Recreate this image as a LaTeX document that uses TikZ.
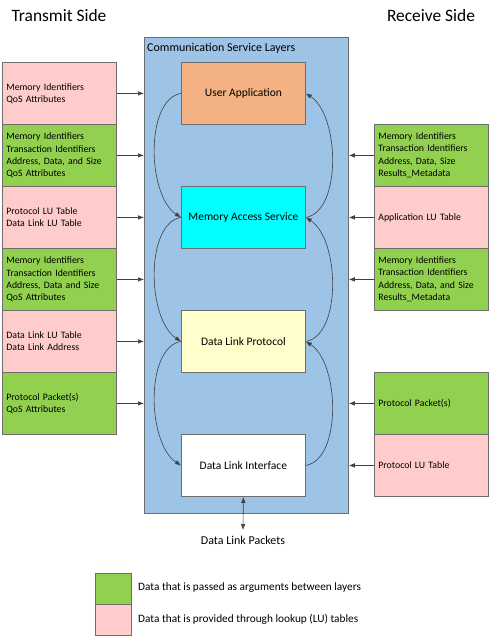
\documentclass[tikz,border=0pt]{standalone}
\usepackage{fontspec}
\setmainfont{Carlito}
\usetikzlibrary{arrows.meta}
\definecolor{pinkc}{HTML}{FFCCCC}
\definecolor{greenc}{HTML}{92D050}
\definecolor{bluec}{HTML}{9DC3E6}
\definecolor{orangec}{HTML}{F4B183}
\definecolor{cyanc}{HTML}{00FFFF}
\definecolor{yellowc}{HTML}{FFFFCC}
\definecolor{borderc}{HTML}{6E6E6E}
\tikzset{
  databox/.style={draw=borderc, line width=0.8pt, minimum width=114pt, minimum height=62pt,
    text width=106pt, align=left, inner sep=4pt, font=\fontsize{9.8}{12.3}\selectfont, anchor=north west},
  lubox/.style={databox, fill=pinkc},
  argbox/.style={databox, fill=greenc},
  layerbox/.style={draw=borderc, line width=0.8pt, minimum width=124pt, minimum height=62pt,
    font=\fontsize{11.5}{13}\selectfont, anchor=north west},
  arr/.style={-{Latex[length=6pt,width=4.5pt]}, line width=0.6pt, draw=black!75},
  carr/.style={-{Latex[length=6pt,width=4.5pt]}, line width=0.6pt, draw=black!75},
  lbl/.style={font=\fontsize{12}{14}\selectfont, inner sep=0pt},
  leg/.style={font=\fontsize{11.3}{13}\selectfont, inner sep=0pt, anchor=west},
}
\begin{document}
\begin{tikzpicture}[x=1pt,y=-1pt]
\useasboundingbox (0,0) rectangle (488,636);
% titles
\node[font=\fontsize{17.4}{20}\selectfont, inner sep=0pt] (tx) at (59,16) {Transmit Side};
\node[font=\fontsize{17.4}{20}\selectfont, inner sep=0pt] (rx) at (431,16) {Receive Side};
% big box
\node[draw=borderc, line width=0.8pt, fill=bluec, minimum width=204pt, minimum height=476pt, anchor=north west, inner sep=0pt] (csl) at (144,37) {};
\node[lbl, anchor=west] (csltitle) at (147,48) {Communication Service Layers};
% layers
\node[layerbox, fill=orangec] (ua) at (181,62) {User Application};
\node[layerbox, fill=cyanc] (mas) at (181,186) {Memory Access Service};
\node[layerbox, fill=yellowc] (dlp) at (181,310) {Data Link Protocol};
\node[layerbox, fill=white] (dli) at (181,434) {Data Link Interface};
% left boxes
\node[lubox] (L1) at (2,62) {Memory Identifiers\\QoS Attributes};
\node[argbox] (L2) at (2,124) {Memory Identifiers\\Transaction Identifiers\\Address, Data, and Size\\QoS Attributes};
\node[lubox] (L3) at (2,186) {Protocol LU Table\\Data Link LU Table};
\node[argbox] (L4) at (2,248) {Memory Identifiers\\Transaction Identifiers\\Address, Data and Size\\QoS Attributes};
\node[lubox] (L5) at (2,310) {Data Link LU Table\\Data Link Address};
\node[argbox] (L6) at (2,372) {Protocol Packet(s)\\QoS Attributes};
% right boxes
\node[argbox] (R1) at (374,124) {Memory Identifiers\\Transaction Identifiers\\Address, Data, Size\\Results\_Metadata};
\node[lubox] (R2) at (374,186) {Application LU Table};
\node[argbox] (R3) at (374,248) {Memory Identifiers\\Transaction Identifiers\\Address, Data, and Size\\Results\_Metadata};
\node[argbox] (R4) at (374,372) {Protocol Packet(s)};
\node[lubox] (R5) at (374,434) {Protocol LU Table};
% arrows in
\foreach \n in {L1,L2,L3,L4,L5,L6} \draw[arr] (\n.east) -- (\n.east -| csl.west);
\foreach \n in {R1,R2,R3,R4,R5} \draw[arr] (\n.west) -- (\n.west -| csl.east);
% curved arrows left (downward)
\draw[carr] (ua.west) .. controls +(-36,6) and +(-34,-22) .. (mas.west);
\draw[carr] (mas.west) .. controls +(-36,6) and +(-34,-22) .. (dlp.west);
\draw[carr] (dlp.west) .. controls +(-36,6) and +(-34,-22) .. (dli.west);
% curved arrows right (upward)
\draw[carr] (dli.east) .. controls +(36,-6) and +(34,22) .. (dlp.east);
\draw[carr] (dlp.east) .. controls +(36,-6) and +(34,22) .. (mas.east);
\draw[carr] (mas.east) .. controls +(36,-6) and +(34,22) .. (ua.east);
% data link packets
\coordinate (dlpk) at (243,530);
\draw[{Latex[length=6pt,width=4.5pt]}-{Latex[length=6pt,width=4.5pt]}, line width=0.6pt, draw=black!75] (dli.south) -- (dlpk);
\node[lbl] (dlpktxt) at (243,540) {Data Link Packets};
% legend
\node[draw=borderc, line width=0.8pt, fill=greenc, minimum width=36pt, minimum height=31pt, anchor=north west, inner sep=0pt] (lg1) at (95,573) {};
\node[draw=borderc, line width=0.8pt, fill=pinkc, minimum width=36pt, minimum height=31pt, anchor=north west, inner sep=0pt] (lg2) at (95,604) {};
\node[leg] (lg1t) at (138,588) {Data that is passed as arguments between layers};
\node[leg] (lg2t) at (138,619) {Data that is provided through lookup (LU) tables};
\end{tikzpicture}
\end{document}
